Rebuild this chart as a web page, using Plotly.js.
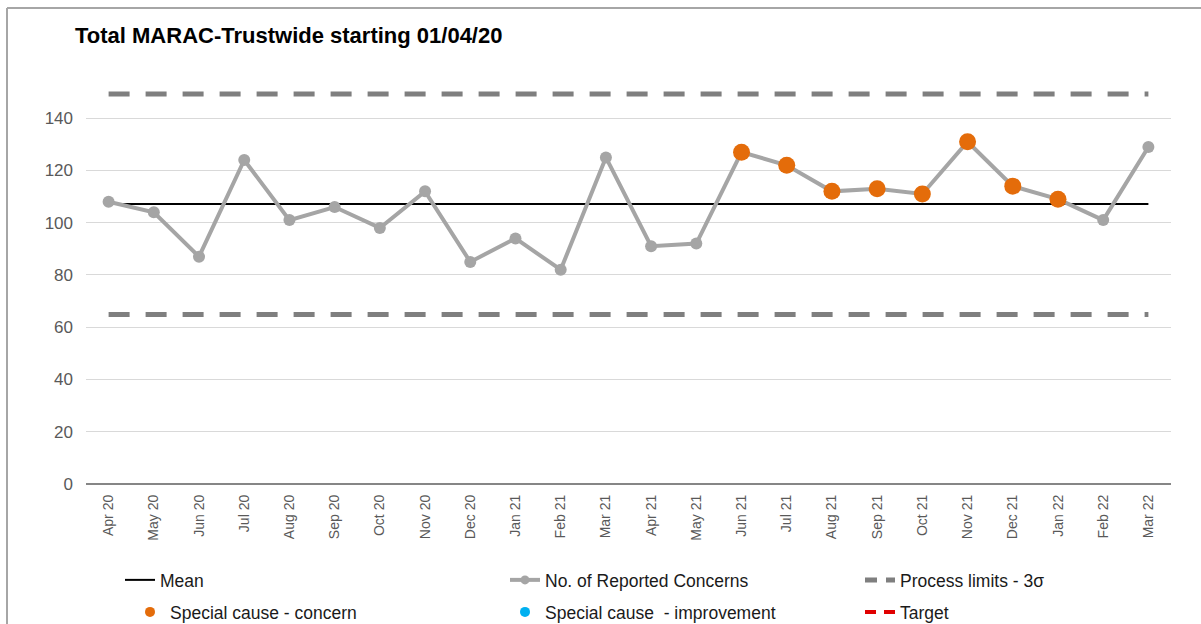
<!DOCTYPE html>
<html>
<head>
<meta charset="utf-8">
<script src="https://cdn.plot.ly/plotly-3.0.1.min.js"></script>
<style>
html,body{margin:0;padding:0;background:#fff;}
#chart{width:1201px;height:624px;}
</style>
</head>
<body>
<div id="chart"></div>
<script>
// ---- data ----
const months = ["Apr 20","May 20","Jun 20","Jul 20","Aug 20","Sep 20","Oct 20","Nov 20","Dec 20","Jan 21","Feb 21","Mar 21","Apr 21","May 21","Jun 21","Jul 21","Aug 21","Sep 21","Oct 21","Nov 21","Dec 21","Jan 22","Feb 22","Mar 22"];
const concerns = [108,104,87,124,101,106,98,112,85,94,82,125,91,92,127,122,112,113,111,131,114,109,101,129];
const meanValue = 107.2;
const upperLimit = 149.3;
const lowerLimit = 64.9;
const concernMonths = ["Jun 21","Jul 21","Aug 21","Sep 21","Oct 21","Nov 21","Dec 21","Jan 22"];
const yTicks = [0,20,40,60,80,100,120,140];

const titleText = "Total MARAC-Trustwide starting 01/04/20";

// derived
const meanLine = months.map(() => meanValue);
const ucl = months.map(() => upperLimit);
const lcl = months.map(() => lowerLimit);
const concernY = months.map((m, i) => concernMonths.includes(m) ? concerns[i] : null);

const W = 1201, H = 624;
const L = 86, R = 30, T = 79, B = 140;
const pw = W - L - R, ph = H - T - B;
const px = v => (v - L) / pw;      // pixel -> paper x
const py = v => (H - B - v) / ph;   // pixel -> paper y

const legendFont = {family: "Liberation Sans, Arial, sans-serif", size: 17.5, color: "#1a1a1a"};
function leg(xPix, yPix) {
  return {
    orientation: "h",
    x: px(xPix), xanchor: "left",
    y: py(yPix), yanchor: "middle",
    font: legendFont,
    bgcolor: "rgba(0,0,0,0)",
    borderwidth: 0,
    itemclick: false, itemdoubleclick: false
  };
}

const limitLine = {color: "#7F7F7F", width: 5, dash: "21px,16px"};

const traces = [
  {x: months, y: meanLine, name: "Mean", mode: "lines", line: {color: "#000000", width: 2}, legend: "legend"},
  {x: months, y: concerns, name: "No. of Reported Concerns", mode: "lines+markers",
   line: {color: "#A5A5A5", width: 4}, marker: {color: "#A5A5A5", size: 12}, showlegend: false},
  {x: [null], y: [null], name: "No. of Reported Concerns", mode: "lines+markers",
   line: {color: "#A5A5A5", width: 4}, marker: {color: "#A5A5A5", size: 9}, legend: "legend2"},
  {x: months, y: ucl, name: "Process limits - 3σ", mode: "lines", line: limitLine, showlegend: false},
  {x: months, y: lcl, name: "Process limits - 3σ", mode: "lines", line: limitLine, showlegend: false},
  {x: [null], y: [null], name: "Process limits - 3σ", mode: "lines", line: {color: "#7F7F7F", width: 5, dash: "12px,9px"}, legend: "legend3"},
  {x: months, y: concernY, name: "Special cause - concern", mode: "markers", marker: {color: "#E46C0A", size: 17}, showlegend: false},
  {x: [null], y: [null], name: "Special cause - concern", mode: "markers", marker: {color: "#E46C0A", size: 10}, legend: "legend4"},
  {x: [null], y: [null], name: "Special cause  - improvement", mode: "markers", marker: {color: "#00B0F0", size: 10}, legend: "legend5"},
  {x: [null], y: [null], name: "Target", mode: "lines", line: {color: "#E00000", width: 4, dash: "11px,8px"}, legend: "legend6"}
];

const layout = {
  width: W, height: H,
  margin: {l: L, r: R, t: T, b: B, autoexpand: false},
  paper_bgcolor: "#ffffff",
  plot_bgcolor: "#ffffff",
  font: {family: "Liberation Sans, Arial, sans-serif", color: "#595959"},
  title: {
    text: "<b>" + titleText + "</b>",
    font: {family: "Liberation Sans, Arial, sans-serif", size: 22, color: "#000000"},
    xref: "container", yref: "container",
    x: 75 / W, xanchor: "left",
    y: 1 - 35 / H, yanchor: "middle"
  },
  xaxis: {
    type: "category",
    range: [-0.5, months.length - 0.5],
    tickangle: -90,
    tickfont: {size: 14, color: "#595959"},
    showgrid: false,
    showline: false,
    zeroline: false,
    ticks: "",
    ticklabelstandoff: 7,
    automargin: false,
    fixedrange: true
  },
  yaxis: {
    range: [0, 155],
    tickvals: yTicks,
    tickfont: {size: 17, color: "#595959"},
    showgrid: true,
    gridcolor: "#D9D9D9",
    gridwidth: 1,
    zeroline: true,
    zerolinecolor: "#868686",
    zerolinewidth: 1.5,
    showline: false,
    ticks: "",
    ticklabelstandoff: 12,
    automargin: false,
    fixedrange: true
  },
  legend: leg(120, 580),
  legend2: leg(505, 580),
  legend3: leg(860, 580),
  legend4: leg(130, 612),
  legend5: leg(505, 612),
  legend6: leg(860, 612),
  shapes: [
    {type: "line", xref: "paper", yref: "paper", x0: px(7), x1: px(1201), y0: py(8), y1: py(8), line: {color: "#A6A6A6", width: 2}},
    {type: "line", xref: "paper", yref: "paper", x0: px(7), x1: px(7), y0: py(8), y1: py(624), line: {color: "#A6A6A6", width: 2}}
  ],
  showlegend: true,
  hovermode: false
};

Plotly.newPlot("chart", traces, layout, {displayModeBar: false, staticPlot: true});
</script>
</body>
</html>
